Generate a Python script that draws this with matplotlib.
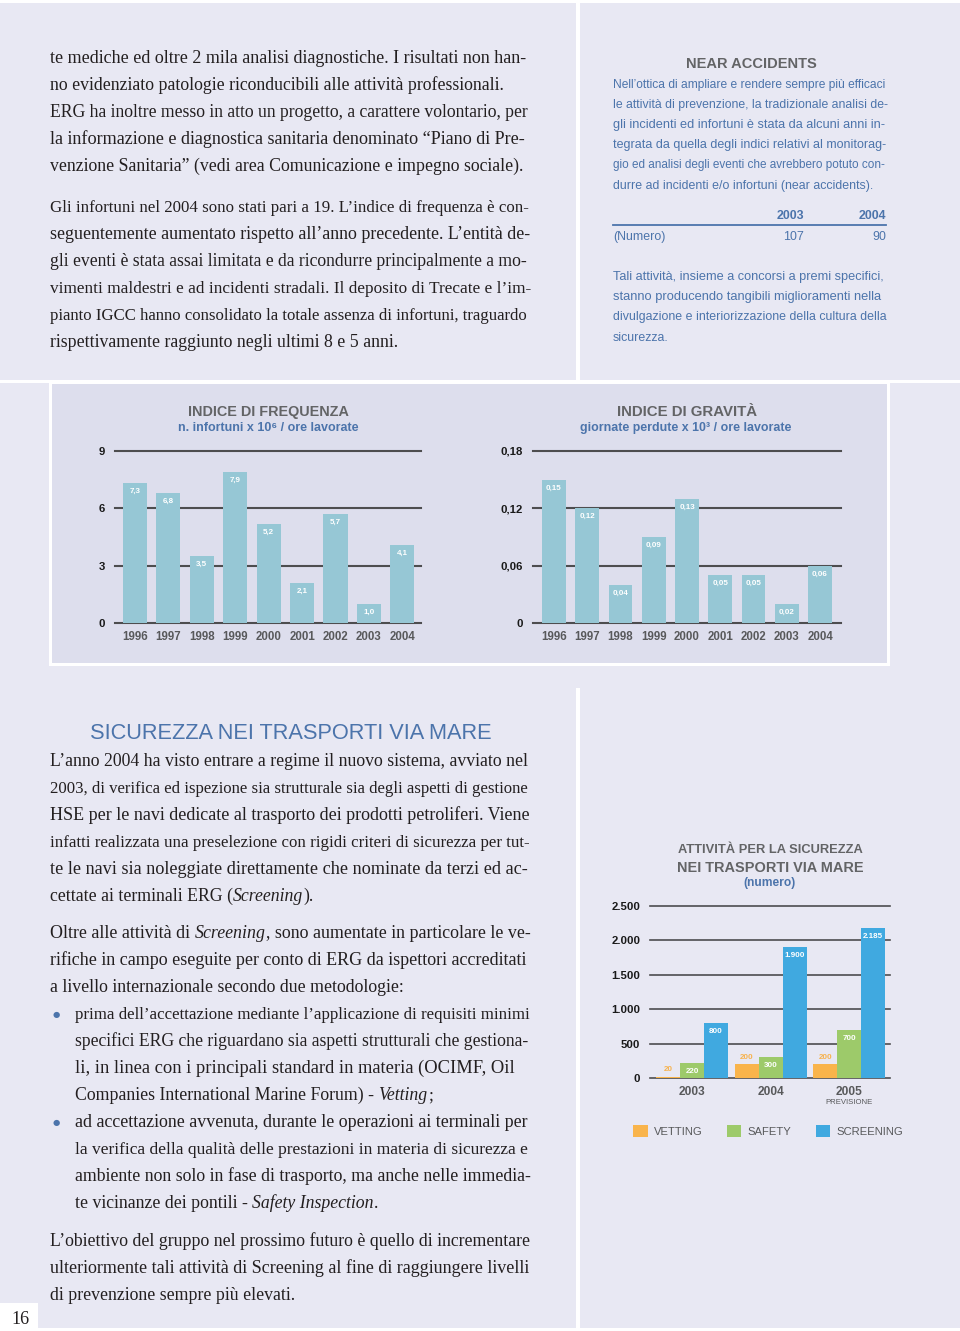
import matplotlib
matplotlib.use('Agg')
import matplotlib.pyplot as plt
from matplotlib.patches import Rectangle
from matplotlib import font_manager as fm
import numpy as np

# ---------------- data ----------------
years = ['1996', '1997', '1998', '1999', '2000', '2001', '2002', '2003', '2004']
freq_values = [7.3, 6.8, 3.5, 7.9, 5.2, 2.1, 5.7, 1.0, 4.1]
freq_ticks = [0, 3, 6, 9]
grav_values = [0.15, 0.12, 0.04, 0.09, 0.13, 0.05, 0.05, 0.02, 0.06]
grav_ticks = [0, 0.06, 0.12, 0.18]
sea_years = ['2003', '2004', '2005']
sea_series = ['VETTING', 'SAFETY', 'SCREENING']
vetting = [20, 200, 200]
safety = [220, 300, 700]
screening = [800, 1900, 2185]
sea_ticks = [0, 500, 1000, 1500, 2000, 2500]
near_years = ['2003', '2004']
near_values = [107, 90]

# ---------------- text ----------------
top_left_lines = [
    ("te mediche ed oltre 2 mila analisi diagnostiche. I risultati non han-", True),
    ("no evidenziato patologie riconducibili alle attività professionali.", False),
    ("ERG ha inoltre messo in atto un progetto, a carattere volontario, per", True),
    ("la informazione e diagnostica sanitaria denominato “Piano di Pre-", True),
    ("venzione Sanitaria” (vedi area Comunicazione e impegno sociale).", False),
    ("Gli infortuni nel 2004 sono stati pari a 19. L’indice di frequenza è con-", True),
    ("seguentemente aumentato rispetto all’anno precedente. L’entità de-", True),
    ("gli eventi è stata assai limitata e da ricondurre principalmente a mo-", True),
    ("vimenti maldestri e ad incidenti stradali. Il deposito di Trecate e l’im-", True),
    ("pianto IGCC hanno consolidato la totale assenza di infortuni, traguardo", True),
    ("rispettivamente raggiunto negli ultimi 8 e 5 anni.", False),
]
top_left_y = [58, 85, 112, 139, 166, 207, 234, 261, 288, 315, 342]

near_lines = [
    ("Nell’ottica di ampliare e rendere sempre più efficaci", True),
    ("le attività di prevenzione, la tradizionale analisi de-", True),
    ("gli incidenti ed infortuni è stata da alcuni anni in-", True),
    ("tegrata da quella degli indici relativi al monitorag-", True),
    ("gio ed analisi degli eventi che avrebbero potuto con-", True),
    ("durre ad incidenti e/o infortuni (near accidents).", False),
]
near_y = [84, 104, 124, 144, 164, 185]
near_lines2 = [
    ("Tali attività, insieme a concorsi a premi specifici,", True),
    ("stanno producendo tangibili miglioramenti nella", True),
    ("divulgazione e interiorizzazione della cultura della", True),
    ("sicurezza.", False),
]
near_y2 = [276, 296, 316, 337]

sea_text = [
    ("L’anno 2004 ha visto entrare a regime il nuovo sistema, avviato nel", True),
    ("2003, di verifica ed ispezione sia strutturale sia degli aspetti di gestione", True),
    ("HSE per le navi dedicate al trasporto dei prodotti petroliferi. Viene", True),
    ("infatti realizzata una preselezione con rigidi criteri di sicurezza per tut-", True),
    ("te le navi sia noleggiate direttamente che nominate da terzi ed ac-", True),
    ("cettate ai terminali ERG (_Screening_).", False),
    ("Oltre alle attività di _Screening_, sono aumentate in particolare le ve-", True),
    ("rifiche in campo eseguite per conto di ERG da ispettori accreditati", True),
    ("a livello internazionale secondo due metodologie:", False),
]
sea_text_y = [761, 788, 815, 842, 869, 896, 933, 960, 987]
bullet_text = [
    ("prima dell’accettazione mediante l’applicazione di requisiti minimi", True),
    ("specifici ERG che riguardano sia aspetti strutturali che gestiona-", True),
    ("li, in linea con i principali standard in materia (OCIMF, Oil", True),
    ("Companies International Marine Forum) - _Vetting_;", False),
    ("ad accettazione avvenuta, durante le operazioni ai terminali per", True),
    ("la verifica della qualità delle prestazioni in materia di sicurezza e", True),
    ("ambiente non solo in fase di trasporto, ma anche nelle immedia-", True),
    ("te vicinanze dei pontili - _Safety Inspection_.", False),
]
bullet_y = [1014, 1041, 1068, 1095, 1122, 1149, 1176, 1203]
bullet_marks_y = [1014, 1122]
final_text = [
    ("L’obiettivo del gruppo nel prossimo futuro è quello di incrementare", True),
    ("ulteriormente tali attività di Screening al fine di raggiungere livelli", True),
    ("di prevenzione sempre più elevati.", False),
]
final_y = [1241, 1268, 1295]

# ---------------- style ----------------
def has_font(name):
    try:
        fm.findfont(fm.FontProperties(family=name), fallback_to_default=False)
        return True
    except Exception:
        return False

SANS = 'Liberation Sans'
SERIF = 'Liberation Serif'
NARROW = 'Liberation Sans Narrow' if has_font('Liberation Sans Narrow') else 'Liberation Sans'
plt.rcParams['font.family'] = [SANS, 'DejaVu Sans']

PANEL = '#e8e8f3'
BOX = '#dddeed'
GRID = '#4d4d4f'
BAR = '#96c7d5'
GRAY = '#58595b'
TGRAY = '#636466'
BLUE = '#4c74ab'
INK = '#231f20'
SEA_COLORS = ['#f9b44b', '#9dca6a', '#40a9e0']

W, H = 960, 1331
fig = plt.figure(figsize=(W / 100, H / 100), dpi=100)
fig.patch.set_facecolor('white')
R = fig.canvas.get_renderer()


def X(x):
    return x / W


def Y(y):
    return 1 - y / H


def rect(x0, y0, x1, y1, color, z=-10, ec='none', lw=0):
    fig.add_artist(Rectangle((X(x0), Y(y1)), (x1 - x0) / W, (y1 - y0) / H,
                             transform=fig.transFigure, facecolor=color,
                             edgecolor=ec, linewidth=lw, zorder=z))


def tw(s, **kw):
    t = fig.text(0, 0, s, **kw)
    w = t.get_window_extent(renderer=R).width
    t.remove()
    return w


def fit_text(xc, yb, s, width, ha='center', size0=10, **kw):
    w = tw(s, fontsize=size0, **kw)
    size = size0 * width / w
    return fig.text(X(xc), Y(yb), s, fontsize=size, ha=ha, va='baseline', **kw)


def segs_of(line):
    parts = line.split('_')
    return [(p, i % 2 == 1) for i, p in enumerate(parts) if p]


def layout(line, size, family, draw=False, x0=0, yb=0, color=INK):
    sp = tw('| |', fontsize=size, family=family) - tw('||', fontsize=size, family=family)
    x = x0
    for text, ital in segs_of(line):
        st = 'italic' if ital else 'normal'
        core = text.strip(' ')
        if text.startswith(' '):
            x += sp
        if core:
            if draw:
                fig.text(X(x), Y(yb), core, fontsize=size, family=family, style=st,
                         color=color, ha='left', va='baseline')
            x += tw(core, fontsize=size, family=family, style=st)
            if text.endswith(' '):
                x += sp
    return x - x0


def fitted_sizes(lines, width, family):
    out = []
    for text, full in lines:
        if full:
            out.append(10 * width / layout(text, 10, family))
    return out


def draw_block(lines, ys, x0, x1, family, color, base, dy, lo=0.06, hi=0.04):
    for (text, full), yc in zip(lines, ys):
        if full:
            s = 10 * (x1 - x0) / layout(text, 10, family)
            s = min(max(s, base * (1 - lo)), base * (1 + hi))
        else:
            s = base
        layout(text, s, family, draw=True, x0=x0, yb=yc + dy, color=color)


# ---------------- page panels ----------------
rect(0, 3, 576, 380, PANEL)
rect(580, 3, 960, 380, PANEL)
rect(0, 383, 960, 688, PANEL)
rect(0, 688, 576, 1328, PANEL)
rect(580, 688, 960, 1328, PANEL)
rect(0, 1303, 38, 1331, 'white', z=-9)
rect(50, 382, 888, 664, BOX, z=-8, ec='white', lw=2.2)

# ---------------- body text (serif) ----------------
all_left = top_left_lines + sea_text + final_text
serif_base = float(np.median(fitted_sizes(all_left, 479, SERIF)))
draw_block(top_left_lines, top_left_y, 50, 529, SERIF, INK, serif_base, 5)
draw_block(sea_text, sea_text_y, 50, 529, SERIF, INK, serif_base, 5)
draw_block(bullet_text, bullet_y, 75, 529, SERIF, INK, serif_base, 5)
draw_block(final_text, final_y, 50, 529, SERIF, INK, serif_base, 5)
for by in bullet_marks_y:
    fig.text(X(56), Y(by), '●', fontsize=6, color=BLUE, ha='center', va='center',
             family='DejaVu Sans')

fit_text(290.5, 739, 'SICUREZZA NEI TRASPORTI VIA MARE', 403, family=SANS, color=BLUE)
fig.text(X(20), Y(1324), '16', fontsize=13, family=SERIF, color=INK, ha='center', va='baseline')

# ---------------- right column: near accidents ----------------
fit_text(751, 68, 'NEAR ACCIDENTS', 130, family=NARROW, fontweight='bold', color=TGRAY)
sans_base = float(np.median(fitted_sizes(near_lines + near_lines2, 273, SANS)))
draw_block(near_lines, near_y, 613, 886, SANS, BLUE, sans_base, 4)
draw_block(near_lines2, near_y2, 613, 886, SANS, BLUE, sans_base, 4)
col_x = [790, 886]
col_ha = ['center', 'right']
for cx, ha, yr, val in zip(col_x, col_ha, near_years, near_values):
    fig.text(X(cx), Y(219), yr, fontsize=sans_base, fontweight='bold', color=BLUE,
             ha=ha, va='baseline')
    fig.text(X(cx + (3 if ha == 'center' else 0)), Y(240), f'{val}', fontsize=sans_base,
             color=BLUE, ha=ha, va='baseline')
fig.text(X(613), Y(240), '(Numero)', fontsize=sans_base, color=BLUE, ha='left', va='baseline')
fig.add_artist(plt.Line2D([X(613), X(886)], [Y(225), Y(225)], transform=fig.transFigure,
                          color=BLUE, lw=1.3))


# ---------------- charts ----------------
def it_num(v, dec=0):
    if v == 0:
        return '0'
    s = f'{v:,.{dec}f}'
    return s.replace(',', 'X').replace('.', ',').replace('X', '.')


def px_axes(l, t, r, b):
    ax = fig.add_axes([X(l), Y(b), (r - l) / W, (b - t) / H])
    ax.set_facecolor('none')
    for s in ax.spines.values():
        s.set_visible(False)
    return ax


def style_ticks(ax, xsize=8.3, ysize=8.2, xpad=6, ypad=7):
    ax.tick_params(axis='y', length=0, pad=ypad, labelsize=ysize, labelcolor='#1a1a1a')
    ax.tick_params(axis='x', length=0, pad=xpad, labelsize=xsize, labelcolor=GRAY)
    for lab in ax.get_xticklabels() + ax.get_yticklabels():
        lab.set_fontweight('bold')
        lab.set_family(SANS)


def index_chart(ax, values, ticks, vdec, tdec, xlim):
    x = np.arange(len(years))
    ax.set_xlim(*xlim)
    ax.set_ylim(ticks[0], ticks[-1])
    for t in ticks:
        ax.axhline(t, color=GRID, lw=1.5, zorder=1, clip_on=False)
    ax.bar(x, values, width=0.72, color=BAR, zorder=2)
    ax.set_yticks(ticks, [it_num(t, tdec) for t in ticks])
    ax.set_xticks(x, years)
    style_ticks(ax)
    for xi, v in zip(x, values):
        ax.annotate(it_num(v, vdec), (xi, v), xytext=(0, -6), textcoords='offset points',
                    ha='center', va='center', color='white', fontsize=5.8,
                    fontweight='bold', family=SANS)


ax1 = px_axes(115, 451, 421, 623)
index_chart(ax1, freq_values, freq_ticks, 1, 0, (-0.6, 8.56))
fit_text(268, 416, 'INDICE DI FREQUENZA', 160, family=NARROW, fontweight='bold', color=TGRAY)
fit_text(268, 431, 'n. infortuni x 10⁶ / ore lavorate', 180,
         family=[NARROW, 'DejaVu Sans'], fontweight='bold', color=BLUE)

ax2 = px_axes(533, 451, 841, 623)
index_chart(ax2, grav_values, grav_ticks, 2, 2, (-0.63, 8.63))
fit_text(687, 416, 'INDICE DI GRAVITÀ', 140, family=NARROW, fontweight='bold', color=TGRAY)
fit_text(686, 431, 'giornate perdute x 10³ / ore lavorate', 211,
         family=[NARROW, 'DejaVu Sans'], fontweight='bold', color=BLUE)

# sea transport chart
ax3 = px_axes(650, 906, 890, 1078)
g = np.arange(len(sea_years))
bw = 0.306
ax3.set_xlim(-0.535, 2.52)
ax3.set_ylim(sea_ticks[0], sea_ticks[-1])
for t in sea_ticks:
    ax3.axhline(t, color=GRID, lw=1.2, zorder=1, clip_on=False)
for k, (vals, col, name) in enumerate(zip([vetting, safety, screening], SEA_COLORS, sea_series)):
    xs = g + (k - 1) * bw
    ax3.bar(xs, vals, width=bw, color=col, label=name, zorder=2)
    for xi, v in zip(xs, vals):
        if k == 0:
            ax3.annotate(it_num(v), (xi, v), xytext=(0, 5), textcoords='offset points',
                         ha='center', va='center', color='#f7b24d', fontsize=5.8,
                         fontweight='bold', family=SANS)
        else:
            ax3.annotate(it_num(v), (xi, v), xytext=(0, -6), textcoords='offset points',
                         ha='center', va='center', color='white', fontsize=5.8,
                         fontweight='bold', family=SANS)
ax3.set_yticks(sea_ticks, [it_num(t) for t in sea_ticks])
ax3.set_xticks(g, sea_years)
style_ticks(ax3, xsize=8.6, ysize=8.2, xpad=6, ypad=7)
ax3.annotate('PREVISIONE', (2, 0), xytext=(0, -18), textcoords='offset points',
             ha='center', va='center', fontsize=5.6, color=GRAY, family=SANS,
             annotation_clip=False)
ax3.legend(loc='center left', bbox_to_anchor=(X(633), Y(1131)), bbox_transform=fig.transFigure,
           ncol=3, frameon=False, prop={'family': SANS, 'size': 8.1}, labelcolor=GRAY,
           handlelength=1.3, handleheight=1.25, handletextpad=0.55, columnspacing=2.15,
           borderpad=0, borderaxespad=0)

fit_text(770, 853, 'ATTIVITÀ PER LA SICUREZZA', 183, family=NARROW, fontweight='bold', color=TGRAY)
fit_text(770, 872, 'NEI TRASPORTI VIA MARE', 186, family=NARROW, fontweight='bold', color=TGRAY)
fit_text(770, 886, '(numero)', 52, family=NARROW, fontweight='bold', color=BLUE)

fig.savefig('out.png', dpi=100, facecolor='white')
